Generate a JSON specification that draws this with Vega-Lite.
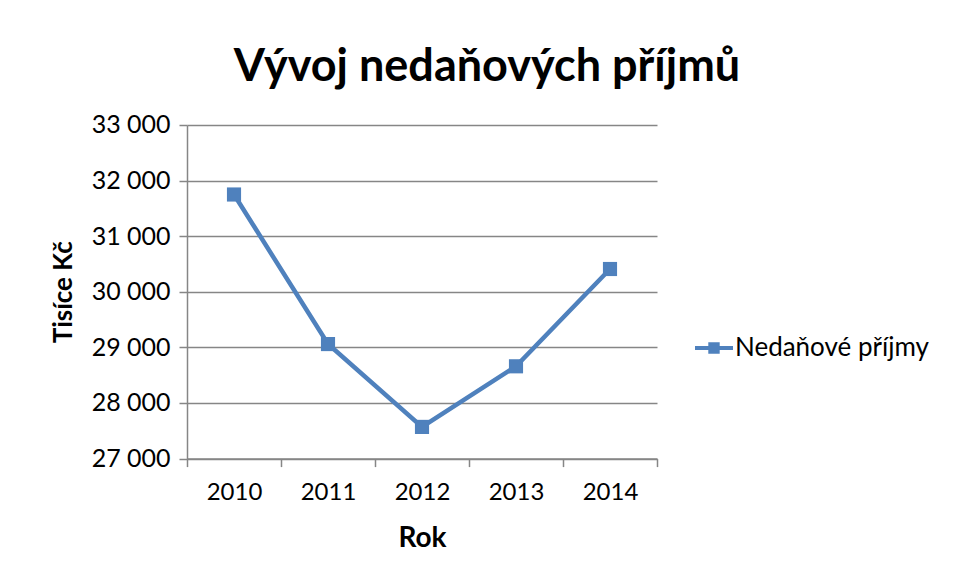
{
  "$schema": "https://vega.github.io/schema/vega-lite/v6.json",
  "autosize": {"type": "none"},
  "width": 470,
  "height": 333.6,
  "padding": {"left": 187, "top": 125, "right": 296, "bottom": 122},
  "background": "white",
  "title": {
    "text": "Vývoj nedaňových příjmů",
    "font": "Lato",
    "fontSize": 45,
    "fontWeight": "bold",
    "color": "#000000",
    "anchor": "middle",
    "dx": 65,
    "offset": 23
  },
  "data": {
    "values": [
      {"Rok": "2010", "Hodnota": 31750, "Serie": "Nedaňové příjmy"},
      {"Rok": "2011", "Hodnota": 29060, "Serie": "Nedaňové příjmy"},
      {"Rok": "2012", "Hodnota": 27570, "Serie": "Nedaňové příjmy"},
      {"Rok": "2013", "Hodnota": 28660, "Serie": "Nedaňové příjmy"},
      {"Rok": "2014", "Hodnota": 30410, "Serie": "Nedaňové příjmy"}
    ]
  },
  "encoding": {
    "x": {
      "field": "Rok",
      "type": "ordinal",
      "bandPosition": 0.5,
      "scale": {"type": "band", "paddingInner": 0, "paddingOuter": 0},
      "axis": {
        "title": "Rok",
        "labelAngle": 0,
        "tickBand": "extent",
        "grid": false,
        "domainColor": "#868686",
        "domainWidth": 1.5,
        "tickColor": "#868686",
        "tickWidth": 1.5,
        "tickSize": 8,
        "labelFont": "Lato",
        "labelFontSize": 24,
        "labelColor": "#000000",
        "labelPadding": 14,
        "titleFont": "Lato",
        "titleFontSize": 28,
        "titleFontWeight": "bold",
        "titleColor": "#000000",
        "titlePadding": 20
      }
    },
    "y": {
      "field": "Hodnota",
      "type": "quantitative",
      "scale": {"domain": [27000, 33000], "nice": false, "zero": false},
      "axis": {
        "title": "Tisíce Kč",
        "values": [27000, 28000, 29000, 30000, 31000, 32000, 33000],
        "format": ",d",
        "labelExpr": "replace(datum.label, ',', ' ')",
        "grid": true,
        "gridColor": "#868686",
        "gridWidth": 1.5,
        "domainColor": "#868686",
        "domainWidth": 1.5,
        "tickColor": "#868686",
        "tickWidth": 1.5,
        "tickSize": 8,
        "labelFont": "Lato",
        "labelFontSize": 25,
        "labelColor": "#000000",
        "labelPadding": 9,
        "titleFont": "Lato",
        "titleFontSize": 26,
        "titleFontWeight": "bold",
        "titleColor": "#000000",
        "titlePadding": 15
      }
    },
    "color": {
      "field": "Serie",
      "type": "nominal",
      "scale": {"range": ["#4F81BD"]},
      "legend": {
        "title": null,
        "orient": "none",
        "legendX": 508,
        "legendY": 204,
        "symbolType": "M-1,-0.1H-0.3V-0.3H0.3V-0.1H1V0.1H0.3V0.3H-0.3V0.1H-1Z",
        "symbolSize": 1444,
        "symbolStrokeWidth": 0,
        "symbolFillColor": "#4F81BD",
        "symbolOpacity": 1,
        "labelFont": "Lato",
        "labelFontSize": 26,
        "labelLimit": 400,
        "labelColor": "#000000",
        "labelOffset": 2
      }
    }
  },
  "layer": [
    {"mark": {"type": "line", "strokeWidth": 4.5}},
    {"mark": {"type": "point", "shape": "square", "filled": true, "size": 200, "opacity": 1}}
  ],
  "config": {
    "view": {"stroke": null}
  }
}
